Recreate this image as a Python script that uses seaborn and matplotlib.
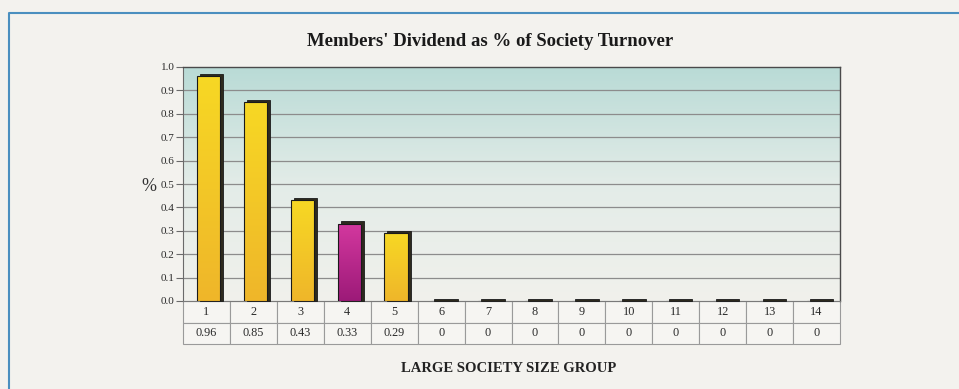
import numpy as np
import pandas as pd
import matplotlib
matplotlib.use("Agg")
import matplotlib.pyplot as plt
from matplotlib.colors import LinearSegmentedColormap
from matplotlib.patches import Rectangle
from matplotlib.lines import Line2D
import seaborn as sns

# ---- data ----
groups = ["1", "2", "3", "4", "5", "6", "7", "8", "9", "10", "11", "12", "13", "14"]
values = [0.96, 0.85, 0.43, 0.33, 0.29, 0, 0, 0, 0, 0, 0, 0, 0, 0]
value_labels = ["0.96", "0.85", "0.43", "0.33", "0.29", "0", "0", "0", "0", "0", "0", "0", "0", "0"]
highlight = "4"
title = "Members' Dividend as % of Society Turnover"
xlabel = "LARGE SOCIETY SIZE GROUP"
ylabel = "%"

SERIF = ["Liberation Serif", "DejaVu Serif"]
GOLD_TOP, GOLD_BOT = "#f7d824", "#efb62a"
MAG_TOP, MAG_BOT = "#d4389f", "#9c1a78"
colors = [MAG_TOP if g == highlight else GOLD_TOP for g in groups]

W, H = 959, 389
fig = plt.figure(figsize=(W / 100, H / 100), dpi=100)
fig.patch.set_facecolor("#f3f2ee")

ax_l, ax_r, ax_t, ax_b = 183, 840, 67, 301
ax = fig.add_axes([ax_l / W, 1 - ax_b / H, (ax_r - ax_l) / W, (ax_b - ax_t) / H])

df = pd.DataFrame({"group": groups, "value": values})
sns.barplot(data=df, x="group", y="value", hue="group", palette=colors,
            width=0.5, edgecolor="#1a1a1a", linewidth=0.8, legend=False,
            ax=ax, zorder=3)

ax.set_xlim(-0.5, len(groups) - 0.5)
ax.set_ylim(0, 1.0)

# back wall gradient
wall = LinearSegmentedColormap.from_list("wall", ["#f1f1ec", "#e3ece8", "#b9dbd6"])
grad = np.linspace(0, 1, 256).reshape(-1, 1)
ax.imshow(grad, extent=[-0.5, len(groups) - 0.5, 0, 1.0], origin="lower",
          cmap=wall, aspect="auto", zorder=0)

# 3D look: dark side/top offset, gradient faces
px_x = (ax_r - ax_l) / len(groups)
px_y = (ax_b - ax_t) / 1.0
dx = 3 / px_x
dy = 2.5 / px_y
shift = 2 / px_x
patches = sorted(ax.patches, key=lambda p: p.get_x())
for p, g in zip(patches, groups):
    p.set_x(p.get_x() + shift)
    x, w, h = p.get_x(), p.get_width(), p.get_height()
    ax.add_patch(Rectangle((x + dx, 0), w, h + dy, facecolor="#2e2a1e",
                           edgecolor="#1a1a1a", linewidth=0.6, zorder=2.8,
                           clip_on=False))
    if h > 0:
        top, bot = (MAG_TOP, MAG_BOT) if g == highlight else (GOLD_TOP, GOLD_BOT)
        cm = LinearSegmentedColormap.from_list("b", [bot, top])
        im = ax.imshow(grad, extent=[x, x + w, 0, h], origin="lower", cmap=cm,
                       aspect="auto", zorder=3.2)
        im.set_clip_path(p)
        p.set_facecolor("none")
        p.set_zorder(3.5)
ax.set_xlim(-0.5, len(groups) - 0.5)
ax.set_ylim(0, 1.0)

# grid / spines / ticks
ax.grid(False)
for v in np.arange(0.1, 1.0, 0.1):
    ax.axhline(v, color="#8c8c8c", lw=0.9, zorder=1)
for s in ["top", "right"]:
    ax.spines[s].set_color("#4a4a4a")
    ax.spines[s].set_linewidth(1.0)
ax.spines["left"].set_color("#6a6a6a")
ax.spines["bottom"].set_color("#7a7a7a")
ax.set_yticks(np.round(np.arange(0, 1.01, 0.1), 1))
ax.set_yticklabels([f"{v:.1f}" for v in np.arange(0, 1.01, 0.1)],
                   fontfamily=SERIF, fontsize=8, color="#2a2a2a")
ax.tick_params(axis="y", direction="out", length=5, color="#6a6a6a", pad=1)
ax.set_xticks([])
ax.set_xlabel("")
ax.set_ylabel("")

# data table
tb = ax.table(cellText=[groups, value_labels], cellLoc="center",
              bbox=[0, -43 / (ax_b - ax_t), 1, 43 / (ax_b - ax_t)])
tb.auto_set_font_size(False)
for cell in tb.get_celld().values():
    cell.set_edgecolor("#9a9a9a")
    cell.set_linewidth(0.8)
    cell.set_facecolor("#f6f5f2")
    cell.get_text().set_fontfamily(SERIF)
    cell.get_text().set_fontsize(8.8)
    cell.get_text().set_color("#2a2a2a")

# texts
fig.text(490 / W, 1 - 41 / H, title, ha="center", va="center",
         fontfamily=SERIF, fontweight="bold", fontsize=13.5, color="#1a1a1a")
fig.text(509 / W, 1 - 369 / H, xlabel, ha="center", va="center",
         fontfamily=SERIF, fontweight="bold", fontsize=10.5, color="#222222")
fig.text(149 / W, 1 - 186 / H, ylabel, ha="center", va="center",
         fontfamily=SERIF, fontsize=13, color="#333333")

# outer frame
fig.add_artist(Line2D([9 / W, 9 / W, 1.0], [0, 1 - 13 / H, 1 - 13 / H],
                      transform=fig.transFigure, color="#4a8fbf", lw=1.5))

fig.savefig("out.png", dpi=100, facecolor=fig.get_facecolor())
